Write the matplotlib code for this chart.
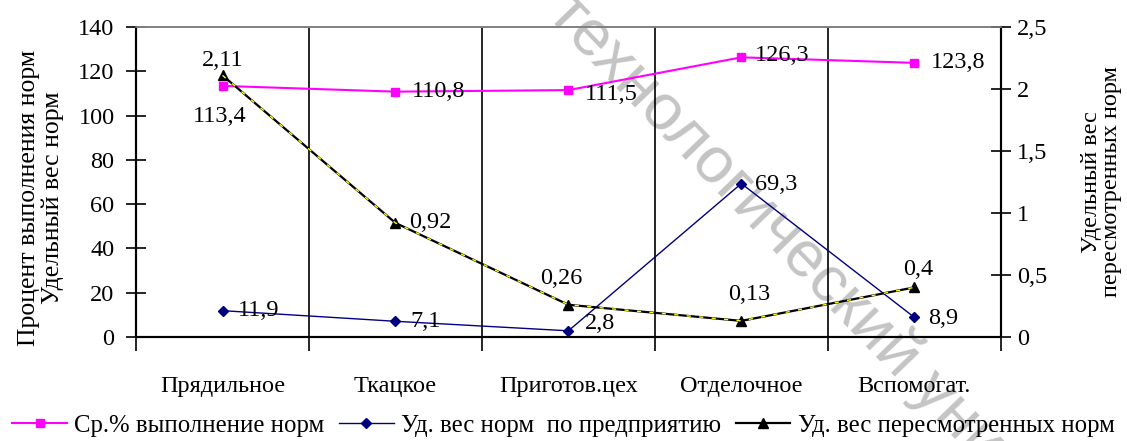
import matplotlib
matplotlib.use("Agg")
import matplotlib.pyplot as plt
from matplotlib.lines import Line2D

plt.rcParams['font.family'] = ['Liberation Serif', 'DejaVu Serif']

categories = ["Прядильное", "Ткацкое", "Приготов.цех", "Отделочное", "Вспомогат."]
avg_completion = [113.4, 110.8, 111.5, 126.3, 123.8]
share_enterprise = [11.9, 7.1, 2.8, 69.3, 8.9]
share_revised = [2.11, 0.92, 0.26, 0.13, 0.4]

left_ticks = [0, 20, 40, 60, 80, 100, 120, 140]
right_ticks = [0, 0.5, 1, 1.5, 2, 2.5]

def comma(v):
    s = f"{v:g}"
    return s.replace(".", ",")

FS = 17.5
fig = plt.figure(figsize=(11.27, 4.41), dpi=100)
ax = fig.add_axes([0.1207, 0.2358, 0.888 - 0.1207, 0.9388 - 0.2358])
ax2 = ax.twinx()
ax.patch.set_visible(False)
ax2.patch.set_visible(False)

x = list(range(len(categories)))
ax.set_xlim(-0.5, len(categories) - 0.5)
ax.set_ylim(0, 140)
ax2.set_ylim(0, 2.5)

# category separators
bounds = [i - 0.5 for i in range(len(categories) + 1)]
ax.set_xticks(x)
ax.set_xticklabels(categories, fontsize=FS)
ax.set_xticks(bounds, minor=True)
ax.tick_params(axis='x', which='major', length=0, pad=28)
ax.tick_params(axis='x', which='minor', length=10, width=1.2, direction='out', color='black')
ax.grid(True, axis='x', which='minor', color='black', linewidth=1.2)
ax.set_axisbelow(True)

ax.set_yticks(left_ticks)
ax.set_yticklabels([comma(v) for v in left_ticks], fontsize=FS)
ax.tick_params(axis='y', direction='inout', length=15, width=1.2, pad=8)
ax2.set_yticks(right_ticks)
ax2.set_yticklabels([comma(v) for v in right_ticks], fontsize=FS)
ax2.tick_params(axis='y', direction='inout', length=15, width=1.2, pad=4)

for a in (ax, ax2):
    a.spines['top'].set_color('#808080')
    a.spines['top'].set_linewidth(1.2)
    a.spines['left'].set_linewidth(1.5)
    a.spines['right'].set_linewidth(1.5)
    a.spines['bottom'].set_linewidth(1.5)

ax.set_ylabel("Процент выполнения норм\nУдельный вес норм", fontsize=18.5, linespacing=1.12)
ax.yaxis.set_label_coords(-0.083, 0.45)
ax2.set_ylabel("Удельный вес\nпересмотренных норм", fontsize=FS, linespacing=0.95, labelpad=24)

# series
ax.plot(x, avg_completion, color='#ff00ff', lw=1.5, marker='s', ms=6, zorder=3)
ax.plot(x, share_enterprise, color='#000080', lw=1.0, marker='D', ms=5, zorder=3)
ax2.plot(x, share_revised, color='black', lw=1.6, marker='^', ms=7, zorder=3)
ax2.plot(x, share_revised, color='#ffff00', lw=1.0, dashes=(3, 6), zorder=3)

# value labels
mag_off = [(-2, -22, 'center'), (12, 0, 'left'), (12, -3, 'left'), (10, 1, 'left'), (12, 0, 'left')]
for xi, v, (dx, dy, ha) in zip(x, avg_completion, mag_off):
    ax.annotate(comma(v), (xi, v), xytext=(dx, dy), textcoords='offset points',
                ha=ha, va='center', fontsize=FS)
navy_off = [(11, 0, 'left'), (11, 0, 'left'), (12, 5, 'left'), (10, -1, 'left'), (10, -1, 'left')]
for xi, v, (dx, dy, ha) in zip(x, share_enterprise, navy_off):
    ax.annotate(comma(v), (xi, v), xytext=(dx, dy), textcoords='offset points',
                ha=ha, va='center', fontsize=FS)
black_off = [(0, 11, 'center'), (10, 0, 'left'), (-5, 19, 'center'), (6, 19, 'center'), (3, 13, 'center')]
for xi, v, (dx, dy, ha) in zip(x, share_revised, black_off):
    ax2.annotate(comma(v), (xi, v), xytext=(dx, dy), textcoords='offset points',
                 ha=ha, va='center', fontsize=FS)

handles = [
    Line2D([], [], color='#ff00ff', lw=1.5, marker='s', ms=6),
    Line2D([], [], color='#000080', lw=1.0, marker='D', ms=5),
    Line2D([], [], color='black', lw=1.6, marker='^', ms=7),
]
labels = ["Ср.% выполнение норм", "Уд. вес норм  по предприятию", "Уд. вес пересмотренных норм"]
fig.legend(handles, labels, loc='center', bbox_to_anchor=(0.5, 0.035), ncol=3, frameon=False,
           fontsize=17.8, handlelength=2.2, handletextpad=0.3, columnspacing=0.6)

# diagonal watermark behind the plot
fig.text(0.4836, 0.966, "технологический университет", fontsize=47, color='#c4c4c4',
         rotation=-46, rotation_mode='anchor', ha='left', va='baseline',
         family=['Liberation Sans', 'DejaVu Sans'], zorder=-1)

fig.savefig("out.png", dpi=100)
